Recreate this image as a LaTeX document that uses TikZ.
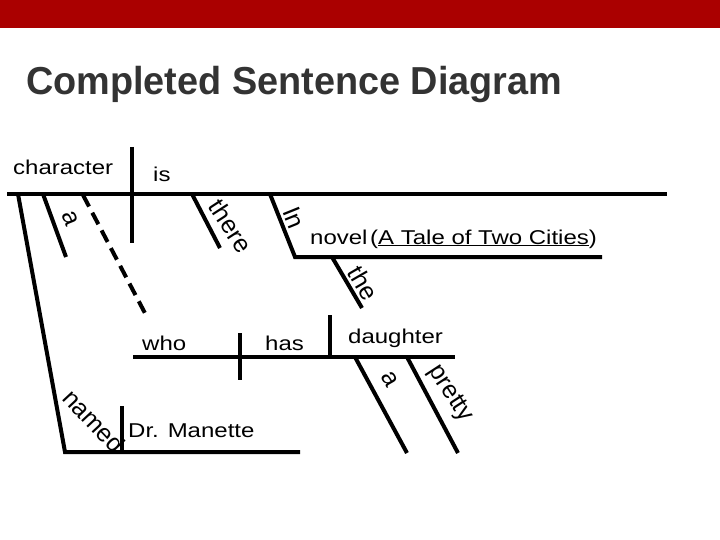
\documentclass[tikz,border=0pt]{standalone}
\usepackage{fontspec}
\setmainfont{Liberation Sans}
\newfontfamily\diagfont[FakeStretch=1.2]{Liberation Sans}
\newfontfamily\titlefont[FakeStretch=0.97]{Liberation Sans}
\usetikzlibrary{calc, positioning}
\definecolor{slidered}{rgb}{0.667, 0, 0}
\definecolor{titlegray}{rgb}{0.2, 0.2, 0.2}
\newcommand{\booktitle}[1]{\setbox0\hbox{#1}\rlap{\rule[-2pt]{\wd0}{1.4pt}}\box0}

\begin{document}
\begin{tikzpicture}[x=1pt, y=-1pt,
        word/.style={inner sep=0pt, anchor=base west, font=\diagfont\fontsize{20}{24}\selectfont},
        slant/.style={inner sep=0pt, font=\fontsize{25}{30}\selectfont},
        stroke/.style={line width=4pt},
        dashstroke/.style={line width=4pt, dash pattern=on 13pt off 7pt}]
                    \useasboundingbox (0,0) rectangle (720,540);
                    \fill[slidered] (0,0) rectangle (720,28);
                    \node[anchor=base west, inner sep=0pt, text=titlegray, font=\titlefont\bfseries\fontsize{39}{46}\selectfont] (title) at (26,95) {Completed Sentence Diagram};

                    \coordinate (Main1) at (7,194);
                    \coordinate (Main2) at (667,194);
                    \coordinate (Subj1) at (132,147);
                    \coordinate (Subj2) at (132,243);
                    \coordinate (Left1) at (18,194);
                    \coordinate (Left2) at (65,452);
                    \coordinate (Left3) at (300,452);
                    \coordinate (Name1) at (122,406);
                    \coordinate (Name2) at (122,452);
                    \coordinate (Art1) at (43,194);
                    \coordinate (Art2) at (66,257);
                    \coordinate (Rel1) at (83,195);
                    \coordinate (Rel2) at (147,317);
                    \coordinate (There1) at (192,194);
                    \coordinate (There2) at (220,248);
                    \coordinate (Prep1) at (270,194);
                    \coordinate (Prep2) at (295,257);
                    \coordinate (Prep3) at (602,257);
                    \coordinate (The1) at (332,257);
                    \coordinate (The2) at (362,308);
                    \coordinate (Who1) at (133,357);
                    \coordinate (Who2) at (455,357);
                    \coordinate (Has1) at (240,333);
                    \coordinate (Has2) at (240,380);
                    \coordinate (Obj1) at (330,315);
                    \coordinate (Obj2) at (330,357);
                    \coordinate (Art3) at (355,357);
                    \coordinate (Art4) at (407,453);
                    \coordinate (Pretty1) at (407,357);
                    \coordinate (Pretty2) at (458,453);

                    \node[word] (character) at (13,175) {character};
                    \node[word] (is) at (153,182) {is};
                    \node[word] (novel) at (310,244) {novel};
                    \node[word] (tale) at (370,244) {(\booktitle{A Tale of Two Cities})};
                    \node[word] (who) at (142,350) {who};
                    \node[word] (has) at (265,350) {has};
                    \node[word] (daughter) at (348,343) {daughter};
                    \node[word] (manette) at (128,437) {Dr. Manette};

                    \node[slant, rotate=-68] (a1) at (70,218) {a};
                    \node[slant, rotate=-57] (there) at (231,226) {there};
                    \node[slant, rotate=-68] (in) at (294,218) {In};
                    \node[slant, rotate=-60] (the) at (363,283) {the};
                    \node[slant, rotate=-60] (a2) at (390,379) {a};
                    \node[slant, rotate=-57] (pretty) at (450,394) {pretty};
                    \node[slant, rotate=-47] (named) at (94,421) {named};

                    \draw[stroke] (Main1) -- (Main2);
                    \draw[stroke] (Subj1) -- (Subj2);
                    \draw[stroke] (Left1) -- (Left2) -- (Left3);
                    \draw[stroke] (Name1) -- (Name2);
                    \draw[stroke] (Art1) -- (Art2);
                    \draw[dashstroke] (Rel1) -- (Rel2);
                    \draw[stroke] (There1) -- (There2);
                    \draw[stroke] (Prep1) -- (Prep2) -- (Prep3);
                    \draw[stroke] (The1) -- (The2);
                    \draw[stroke] (Who1) -- (Who2);
                    \draw[stroke] (Has1) -- (Has2);
                    \draw[stroke] (Obj1) -- (Obj2);
                    \draw[stroke] (Art3) -- (Art4);
                    \draw[stroke] (Pretty1) -- (Pretty2);
            \end{tikzpicture}
\end{document}
